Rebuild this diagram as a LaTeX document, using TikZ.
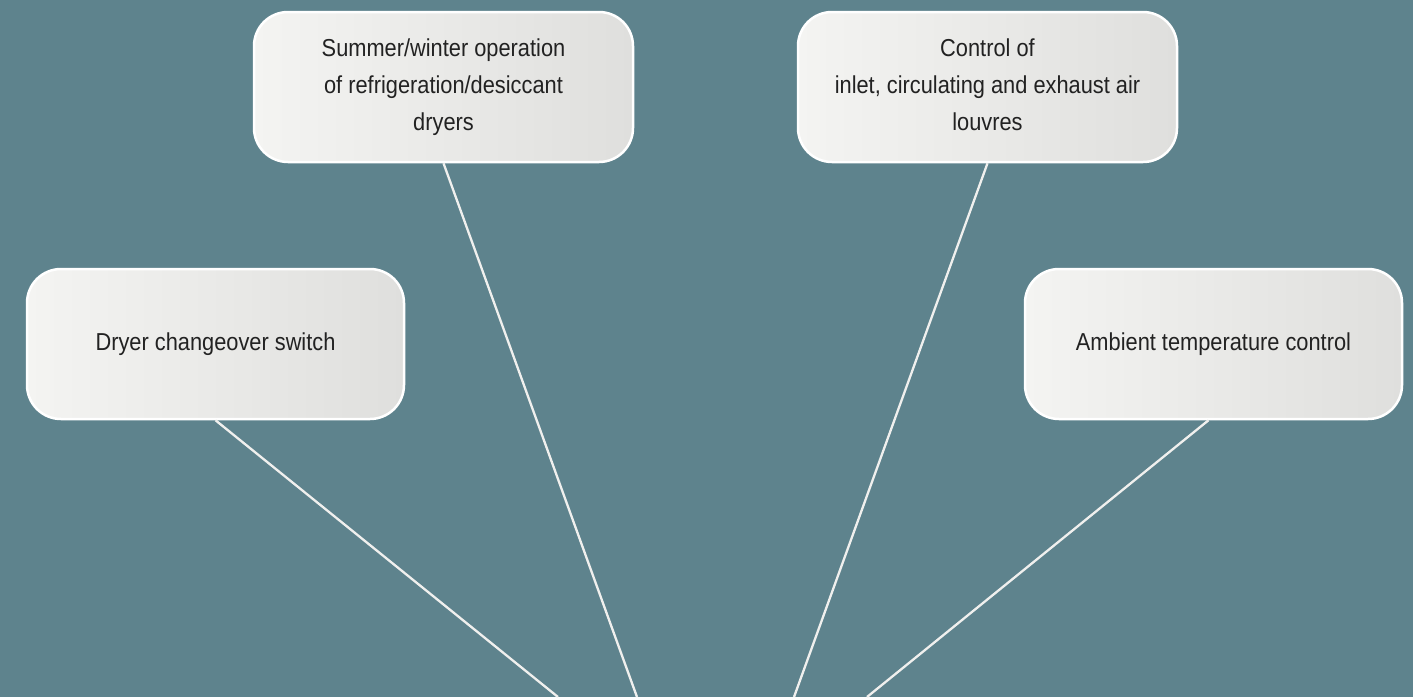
\documentclass[tikz,border=0pt]{standalone}
\usepackage{fontspec}
\setmainfont{Liberation Sans}[FakeStretch=0.89]
\definecolor{bgcol}{HTML}{5E838D}
\definecolor{boxleft}{HTML}{F4F4F2}
\definecolor{boxright}{HTML}{DFDFDD}
\definecolor{txtcol}{HTML}{222222}
\definecolor{linecol}{HTML}{F0F0EE}
\tikzset{
  infobox/.style={draw=white, line width=2.5pt, rounded corners=34pt,
    left color=boxleft, right color=boxright, inner sep=0pt,
    minimum height=150pt, text=txtcol, align=center,
    font=\fontsize{24.5}{36.7}\selectfont},
  spoke/.style={draw=linecol, line width=2.3pt}
}
\begin{document}
\begin{tikzpicture}[x=1pt,y=-1pt]
\fill[bgcol] (0,0) rectangle (1413,697);
\useasboundingbox (0,0) rectangle (1413,697);
\coordinate (e1) at (558,697);
\coordinate (e2) at (637,697);
\coordinate (e3) at (794,697);
\coordinate (e4) at (867,697);
\node[infobox, minimum width=379pt] (sw) at (443.5,87) {Summer/winter operation\\of refrigeration/desiccant\\dryers};
\node[infobox, minimum width=379pt] (ctl) at (987.5,87) {Control of\\inlet, circulating and exhaust air\\louvres\vphantom{y}};
\node[infobox, minimum width=377pt] (dry) at (215.5,344) {Dryer changeover switch};
\node[infobox, minimum width=377pt] (amb) at (1213.5,344) {Ambient temperature control};
\draw[spoke] (dry.south) -- (e1);
\draw[spoke] (sw.south) -- (e2);
\draw[spoke] (ctl.south) -- (e3);
\draw[spoke] (amb.south) ++(-5,0) -- (e4);
\end{tikzpicture}
\end{document}
